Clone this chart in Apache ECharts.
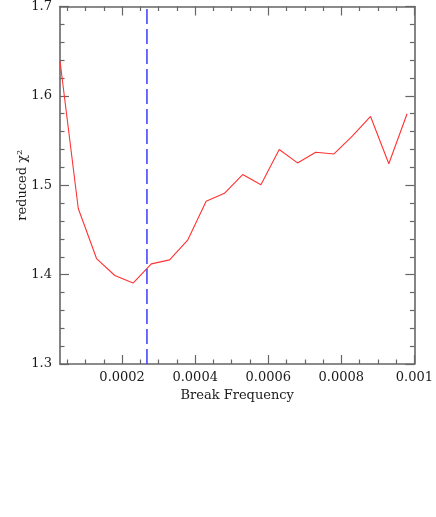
<!DOCTYPE html>
<html>
<head>
<meta charset="utf-8">
<script src="https://cdn.jsdelivr.net/npm/echarts@6/dist/echarts.min.js"></script>
<style>
html,body{margin:0;padding:0;background:#fff;}
#chart{width:436px;height:517px;}
</style>
</head>
<body>
<div id="chart"></div>
<script>
// Data
var breakFrequency = [0.00003,0.00008,0.00013,0.00018,0.00023,0.00028,0.00033,0.00038,0.00043,0.00048,0.00053,0.00058,0.00063,0.00068,0.00073,0.00078,0.00083,0.00088,0.00093,0.00098];
var reducedChi2 = [1.639,1.474,1.418,1.399,1.3905,1.412,1.4165,1.439,1.482,1.491,1.512,1.5006,1.540,1.525,1.537,1.535,1.555,1.577,1.524,1.580];
var bestBreak = 0.000268;
var xMajorTicks = [0.0002,0.0004,0.0006,0.0008,0.001];
var xMinorTicks = [0.00005,0.0001,0.00015,0.00025,0.0003,0.00035,0.00045,0.0005,0.00055,0.00065,0.0007,0.00075,0.00085,0.0009,0.00095];
var xMin = 0.00003, xMax = 0.001;
var yMin = 1.3, yMax = 1.7, yStep = 0.1;

var FONT = 'DejaVu Serif';
var AX = '#666666';
var TXT = '#1a1a1a';

function xAx(pos, major, labels) {
  return {
    type: 'value', position: pos, min: xMin, max: xMax, gridIndex: 0,
    axisLine: {show: major, lineStyle: {color: AX, width: 1.6}},
    axisTick: {show: true, inside: true, length: major ? 9 : 4.5,
      customValues: major ? xMajorTicks : xMinorTicks,
      lineStyle: {color: AX, width: 1.2}},
    axisLabel: {show: labels, customValues: xMajorTicks, margin: 7,
      fontFamily: FONT, fontSize: 13, color: TXT,
      formatter: function (v) { return String(+(+v).toPrecision(6)); }},
    splitLine: {show: false},
    name: labels ? 'Break Frequency' : '',
    nameLocation: 'middle', nameGap: 24,
    nameTextStyle: {fontFamily: FONT, fontSize: 13, color: TXT}
  };
}
function yAx(pos, labels) {
  return {
    type: 'value', position: pos, min: yMin, max: yMax, interval: yStep,
    axisLine: {show: true, lineStyle: {color: AX, width: 1.6}},
    axisTick: {show: true, inside: true, length: 9, lineStyle: {color: AX, width: 1.2}},
    minorTick: {show: true, splitNumber: 5, length: 4.5, lineStyle: {color: AX, width: 1.2}},
    axisLabel: {show: labels, margin: 8, fontFamily: FONT, fontSize: 13, color: TXT,
      formatter: function (v) { return (+v).toFixed(1); }},
    splitLine: {show: false}, minorSplitLine: {show: false},
    name: labels ? 'reduced χ²' : '',
    nameLocation: 'middle', nameGap: 31, nameRotate: 90, nameMoveOverlap: false,
    nameTextStyle: {fontFamily: FONT, fontSize: 13, color: TXT}
  };
}

var chart = echarts.init(document.getElementById('chart'), null, {renderer: 'canvas'});
chart.setOption({
  animation: false,
  backgroundColor: '#fff',
  grid: {left: 60, top: 5, right: 17, bottom: 153},
  xAxis: [xAx('bottom', true, true), xAx('bottom', false, false), xAx('top', true, false), xAx('top', false, false)],
  yAxis: [yAx('left', true), yAx('right', false)],
  series: [{
    type: 'line',
    xAxisIndex: 0, yAxisIndex: 0,
    data: breakFrequency.map(function (f, i) { return [f, reducedChi2[i]]; }),
    showSymbol: false,
    lineStyle: {color: '#ff3333', width: 1.1},
    itemStyle: {color: '#ff3333'}
  }, {
    type: 'line',
    xAxisIndex: 0, yAxisIndex: 0,
    data: [[bestBreak, yMin], [bestBreak, yMax]],
    showSymbol: false,
    lineStyle: {color: '#3a3aff', width: 1.5, type: [15, 5]},
    itemStyle: {color: '#3a3aff'}
  }]
});
</script>
</body>
</html>
